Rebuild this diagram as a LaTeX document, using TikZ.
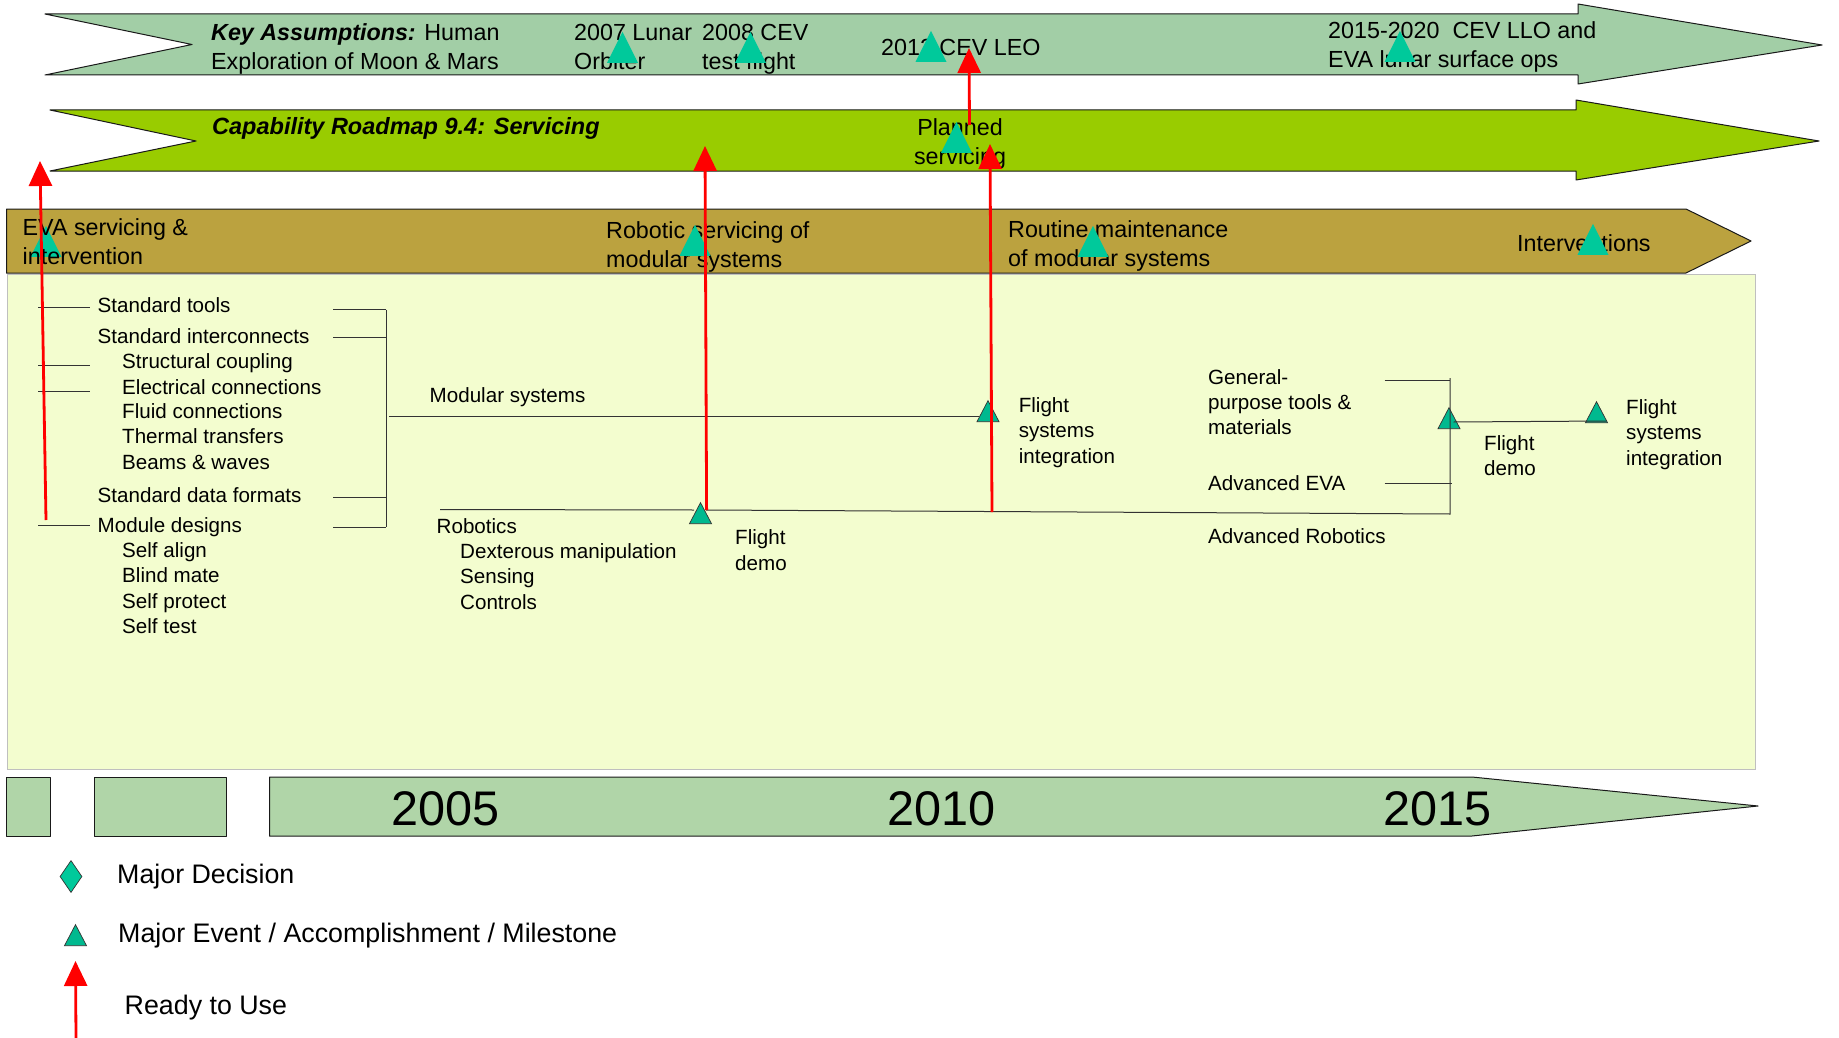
\documentclass[tikz,border=0pt]{standalone}
\usepackage{fontspec}
\setmainfont{Liberation Sans}
\usetikzlibrary{arrows.meta,shapes.geometric}
\definecolor{assumegreen}{HTML}{A2CEA6}
\definecolor{limegreen}{HTML}{99CC00}
\definecolor{ochre}{HTML}{BBA23F}
\definecolor{paleyellow}{HTML}{F3FDCF}
\definecolor{yeargreen}{HTML}{B0D5A8}
\definecolor{mileteal}{HTML}{00C99B}
\tikzset{
	lbl/.style={anchor=base west,inner sep=0pt,align=left,font=\fontsize{20.6}{25.2}\selectfont},
	bannerlbl/.style={anchor=base west,inner sep=0pt,align=left,font=\fontsize{23.3}{29}\selectfont},
	yearlbl/.style={anchor=base west,inner sep=0pt,font=\fontsize{48.6}{50}\selectfont},
	keylbl/.style={anchor=base west,inner sep=0pt,font=\fontsize{26.8}{30}\selectfont},
	band/.style={draw=black!90,line width=1pt,line join=round},
	tick/.style={draw=black!80,line width=1pt},
	milestone/.style={isosceles triangle,isosceles triangle stretches,shape border rotate=90,anchor=lower side,inner sep=0pt,minimum width=31pt,minimum height=31pt,fill=mileteal},
	smallmilestone/.style={isosceles triangle,isosceles triangle stretches,shape border rotate=90,anchor=lower side,inner sep=0pt,minimum width=22pt,minimum height=21pt,fill=mileteal!92!black,draw=black!80,line width=0.7pt},
	ready/.style={-{Triangle[width=23pt,length=25pt]},red,line width=2.8pt},
}
\begin{document}
\begin{tikzpicture}[x=1pt,y=-1pt]
	\useasboundingbox (0,0) rectangle (1839,1038);
	\draw[band,fill=assumegreen] (45,14) -- (1578,14) -- (1578,4) -- (1822,45) -- (1578,84) -- (1578,75) -- (45,75) -- (192,44.5) -- cycle;
	\draw[band,fill=limegreen] (50,110) -- (1576,110) -- (1576,100) -- (1819,141) -- (1576,180) -- (1576,171) -- (50,171) -- (196,141) -- cycle;
	\draw[band,fill=ochre] (6.5,209) -- (1686,209) -- (1751,241) -- (1686,273) -- (6.5,273) -- cycle;
	\draw[draw=black!25,fill=paleyellow,line width=0.8pt] (7.5,274) rectangle (1755,769);
	\draw[band,fill=yeargreen] (6,777) rectangle (50,836);
	\draw[band,fill=yeargreen] (94,777) rectangle (226,836);
	\draw[band,fill=yeargreen] (269.5,777) -- (1472,777) -- (1758,806) -- (1472,836) -- (269.5,836) -- cycle;
	\node[milestone] (teva) at (46,257) {};

	\node[bannerlbl] (keytext) at (211,69.5) {\textbf{\textit{Key Assumptions:}} Human\\Exploration of Moon \& Mars};
	\node[bannerlbl] (lunar) at (574,69.5) {2007 Lunar\\Orbiter};
	\node[bannerlbl] (cevtest) at (702,69.5) {2008 CEV\\test flight};
	\node[bannerlbl] (cevleo) at (881,56) {2012 CEV LEO};
	\node[bannerlbl] (llo) at (1328,68) {2015-2020\ \ CEV LLO and\\EVA lunar surface ops};
	\node[bannerlbl] (roadmap) at (212,135) {\fontsize{23.5}{29}\selectfont\textbf{\textit{Capability Roadmap 9.4: Servicing}}};
	\node[bannerlbl,align=center,anchor=base] (planned) at (960,164.5) {Planned\\servicing};
	\node[bannerlbl] (evaserv) at (22.5,264) {EVA servicing \&\\intervention};
	\node[bannerlbl] (robserv) at (606,267) {Robotic servicing of\\modular systems};
	\node[bannerlbl] (routine) at (1008,266) {Routine maintenance\\of modular systems};
	\node[bannerlbl] (interv) at (1517,251) {Interventions};

	\foreach \n/\x/\y/\t in {tools/97.5/312/Standard tools,inter/97.5/343/Standard interconnects,struct/122/368/Structural coupling,elec/122/394/Electrical connections,fluid/122/418.7/Fluid connections,therm/122/443.7/Thermal transfers,beams/122/469.7/Beams \& waves,formats/97.5/502/Standard data formats,module/97.5/532.3/Module designs,align/122/557.7/Self align,blind/122/582.7/Blind mate,protect/122/608/Self protect,test/122/633.5/Self test,modsys/429.5/402/Modular systems,robotics/436.5/533/Robotics,dext/460/558/Dexterous manipulation,sensing/460/583/Sensing,controls/460/609/Controls,advrob/1208/543/Advanced Robotics,adveva/1208/490/Advanced EVA}
		\node[lbl] (\n) at (\x,\y) {\t};
	\node[lbl] (demoa) at (735,570) {Flight\\demo};
	\node[lbl] (fsia) at (1018.6,463) {Flight\\systems\\integration};
	\node[lbl] (general) at (1208,434.7) {General-\\purpose tools \&\\materials};
	\node[lbl] (demob) at (1484,475.7) {Flight\\demo};
	\node[lbl] (fsib) at (1626,465) {Flight\\systems\\integration};

	\foreach \n/\x/\y/\t in {yeara/391/825/2005,yearb/887/825/2010,yearc/1383/825/2015}
		\node[yearlbl] (\n) at (\x,\y) {\t};
	\node[keylbl] (keydec) at (117,883.5) {Major Decision};
	\node[keylbl] (keyevt) at (118,942) {Major Event / Accomplishment / Milestone};
	\node[keylbl] (keyuse) at (124.5,1014) {Ready to Use};

	\foreach \n/\x/\y in {tlunar/622.5/63,tcev/750.5/63,tleo/931/62,tllo/1400/62,tplan/956.5/153,trob/695/256,trout/1093/257,tint/1593/255}
		\node[milestone] (\n) at (\x,\y) {};
	\foreach \n/\x/\y in {sdemoa/700.5/524,sfsia/988/422,sdemob/1449/429,sfsib/1596.5/423,skeyevt/75.5/946}
		\node[smallmilestone] (\n) at (\x,\y) {};
	\node[diamond,aspect=0.69,inner sep=0pt,minimum width=22pt,minimum height=32pt,fill=mileteal,draw=black!80,line width=0.7pt] (skeydec) at (71,876.5) {};

	\foreach \n/\y in {a/307.5,b/365,c/391,d/525} {
		\coordinate (l\n0) at (38,\y);
		\coordinate (l\n1) at (90,\y);
		\draw[tick] (l\n0) -- (l\n1);
	}
	\foreach \n/\y in {a/309.5,b/337,c/497,d/527} {
		\coordinate (r\n0) at (333,\y);
		\coordinate (r\n1) at (386,\y);
		\draw[tick] (r\n0) -- (r\n1);
	}
	\draw[tick] (ra1) -- (rd1);
	\coordinate (modl) at (389,416);
	\coordinate (modr) at (979,416);
	\draw[tick] (modl) -- (modr);
	\coordinate (robl) at (440,509.5);
	\coordinate (robm) at (694,510);
	\coordinate (robn) at (706,510);
	\coordinate (robk) at (1450,514);
	\coordinate (adva) at (1450,378);
	\draw[tick] (robl) -- (robm);
	\draw[tick] (robn) -- (robk) -- (adva);
	\coordinate (gena) at (1384.5,380);
	\coordinate (genb) at (1450,380);
	\coordinate (evaa) at (1384.5,483);
	\coordinate (evab) at (1452,483);
	\draw[tick] (gena) -- (genb);
	\draw[tick] (evaa) -- (evab);
	\coordinate (linka) at (1453.6,422);
	\coordinate (linkb) at (1606.6,421);
	\draw[tick] (linka) -- (linkb);

	\coordinate (upa) at (46,520);
	\coordinate (upb) at (40,161);
	\coordinate (upc) at (706.6,510);
	\coordinate (upd) at (705,146);
	\coordinate (upe) at (969.5,125);
	\coordinate (upf) at (969,48);
	\coordinate (upg) at (992,512);
	\coordinate (uph) at (990,144);
	\coordinate (upi) at (76,1038);
	\coordinate (upj) at (75.5,961);
	\draw[ready] (upa) -- (upb);
	\draw[ready] (upc) -- (upd);
	\draw[ready] (upe) -- (upf);
	\draw[ready] (upg) -- (uph);
	\draw[ready] (upi) -- (upj);
\end{tikzpicture}
\end{document}
